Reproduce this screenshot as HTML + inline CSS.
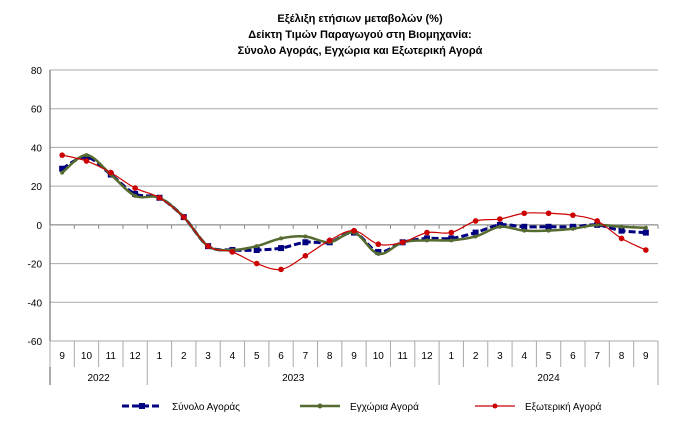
<!DOCTYPE html>
<html><head><meta charset="utf-8"><style>
body{margin:0;background:#fff;width:676px;height:436px;overflow:hidden;font-family:"Liberation Sans",sans-serif}
</style></head><body>
<svg id="c" width="676" height="436" font-family="Liberation Sans, sans-serif">
<g font-size="11" font-weight="bold" text-anchor="middle" fill="#000">
<text x="360" y="22">Εξέλιξη ετήσιων μεταβολών (%)</text>
<text x="360" y="38">Δείκτη Τιμών Παραγωγού στη Βιομηχανία:</text>
<text x="360" y="54">Σύνολο Αγοράς, Εγχώρια και Εξωτερική Αγορά</text>
</g>
<g id="grid"></g><g id="axes"></g><g id="series"></g>
<g font-size="10">
<g><line x1="122" y1="406" x2="162" y2="406" stroke="#000080" stroke-width="3" stroke-dasharray="7,3"/><rect x="139" y="403" width="6" height="6" fill="#000080"/><text x="172" y="410">Σύνολο Αγοράς</text></g>
<g><line x1="300" y1="406" x2="340" y2="406" stroke="#556b2f" stroke-width="2.5"/><circle cx="320" cy="406" r="2.5" fill="#556b2f"/><text x="350" y="410">Εγχώρια Αγορά</text></g>
<g><line x1="475" y1="406" x2="515" y2="406" stroke="#cc0000" stroke-width="1.2"/><circle cx="495" cy="406" r="2.5" fill="#cc0000"/><text x="525" y="410">Εξωτερική Αγορά</text></g>
</g>
</svg>
<script>
const months=["9","10","11","12","1","2","3","4","5","6","7","8","9","10","11","12","1","2","3","4","5","6","7","8","9"];
const years=["2022","2023","2024"];
const yTicks=[80,60,40,20,0,-20,-40,-60];
const total=[29,35,26,16,14,4,-11,-13,-13,-12,-9,-9,-4,-14,-9,-7,-7,-4,0,-1,-1,-1,0,-3,-4];
const domestic=[27,36,26,15,14,4,-11,-13,-11,-7,-6,-9,-4,-15,-9,-8,-8,-6,-1,-3,-3,-2,0,-1,-1.5];
const external=[36,33,27,19,14,4,-11,-14,-20,-23,-16,-8,-3,-10,-9,-4,-4,2,3,6,6,5,2,-7,-13];
const NS="http://www.w3.org/2000/svg";
const L=50,R=658,T=70,B=341;
const step=(R-L)/months.length;
const x=i=>L+step*(i+0.5);
const y=v=>T+(80-v)/140*(B-T);
function mk(t,a,p){const e=document.createElementNS(NS,t);for(const k in a)e.setAttribute(k,a[k]);p.appendChild(e);return e;}
const grid=document.getElementById('grid'),axes=document.getElementById('axes'),ser=document.getElementById('series');
yTicks.forEach(v=>{
 const g=mk('line',{x1:L,x2:R,y1:y(v),y2:y(v),stroke:v===0?'#888':'#aaa','stroke-width':1},grid);
 
 
 const t=mk('text',{x:L-8,y:y(v)+4,'text-anchor':'end','font-size':10},axes);t.textContent=v;
 
 
});
mk('line',{x1:L,x2:L,y1:T,y2:385,stroke:'#555'},axes);
mk('line',{x1:L,x2:R,y1:B,y2:B,stroke:'#aaa'},axes);
mk('line',{x1:L,x2:R,y1:y(0),y2:y(0),stroke:'#888'},axes);
for(let i=0;i<=months.length;i++){const xx=L+step*i;mk('line',{x1:xx,x2:xx,y1:y(0),y2:y(0)+4,stroke:'#888'},axes);mk('line',{x1:xx,x2:xx,y1:B,y2:B+26,stroke:'#aaa'},axes);}
months.forEach((m,i)=>{const t=mk('text',{x:x(i),y:B+18,'text-anchor':'middle','font-size':10},axes);t.textContent=m;
 
 });
// year groups
const yb=[[0,4],[4,16],[16,25]];
yb.forEach((r,k)=>{mk('line',{x1:L+step*r[1],x2:L+step*r[1],y1:B+26,y2:385,stroke:'#aaa'},axes);
 const t=mk('text',{x:L+step*(r[0]+r[1])/2,y:B+40,'text-anchor':'middle','font-size':10},axes);t.textContent=years[k];
 
 });
function path(d){const p=d.map((v,i)=>[x(i),y(v)]);let s=`M${p[0][0]},${p[0][1]}`;
 for(let i=0;i<p.length-1;i++){const p0=p[i-1]||p[i],p1=p[i],p2=p[i+1],p3=p[i+2]||p2;
 s+=` C${p1[0]+(p2[0]-p0[0])/6},${p1[1]+(p2[1]-p0[1])/6} ${p2[0]-(p3[0]-p1[0])/6},${p2[1]-(p3[1]-p1[1])/6} ${p2[0]},${p2[1]}`;}return s;}
function draw(d,col,w,dash,marker,name){
 const g=mk('g',{},ser);
 
 
 const a={d:path(d),fill:'none',stroke:col,'stroke-width':w};if(dash)a['stroke-dasharray']=dash;mk('path',a,g);
 d.forEach((v,i)=>{const m=marker==='sq'?mk('rect',{x:x(i)-3,y:y(v)-3,width:6,height:6,fill:col},g):mk('circle',{cx:x(i),cy:y(v),r:marker==='big'?2.8:2,fill:col},g);
 
 });
}
draw(total,'#000080',3,'7,3','sq','series-total');
draw(domestic,'#556b2f',2.5,null,'small','series-domestic');
draw(external,'#cc0000',1.2,null,'big','series-external');
</script>
</body></html>
